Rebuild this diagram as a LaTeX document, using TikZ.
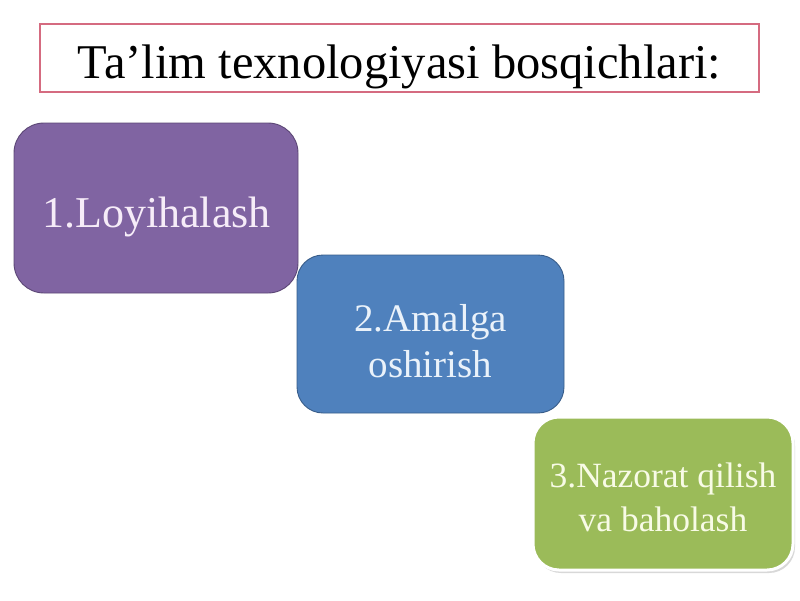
\documentclass[tikz,border=0pt]{standalone}
\usepackage{fontspec}
\setmainfont{Liberation Serif}
\usetikzlibrary{shadows}
\definecolor{titleborder}{HTML}{D56B80}
\definecolor{purplefill}{HTML}{8064A2}
\definecolor{purpleline}{HTML}{5C4776}
\definecolor{bluefill}{HTML}{4F81BD}
\definecolor{blueline}{HTML}{385D8A}
\definecolor{greenfill}{HTML}{9BBB59}
\definecolor{purpletext}{HTML}{F6ECF8}
\definecolor{bluetext}{HTML}{EAF2FA}
\definecolor{greentext}{HTML}{F8FBE6}
\tikzset{
  px/.style={x=1pt,y=-1pt},
  titlebox/.style={draw=titleborder,line width=1.6pt,fill=white},
  stepbox/.style={rounded corners=26pt,line width=0.9pt},
  steptext/.style={align=center,inner sep=0pt},
}
\begin{document}
\begin{tikzpicture}[px]
\useasboundingbox[fill=white] (0,0) rectangle (800,600);
% title
\draw[titlebox] (40,24) rectangle (759,92);
\node[steptext,anchor=base,font=\fontsize{48.5}{56}\selectfont] (title) at (399.5,78) {Ta’lim texnologiyasi bosqichlari:};
% box 1
\draw[stepbox,fill=purplefill,draw=purpleline,rounded corners=30pt] (14,123) rectangle (298,293);
\node[steptext,anchor=base,text=purpletext,font=\fontsize{44}{50}\selectfont] (s1) at (156.5,227) {1.Loyihalash};
% box 2
\draw[stepbox,fill=bluefill,draw=blueline] (297,255) rectangle (564,413);
\node[steptext,text=bluetext,font=\fontsize{39}{46}\selectfont] (s2) at (430.5,341) {2.Amalga\\oshirish};
% box 3
\draw[stepbox,fill=greenfill,draw=white,line width=3pt,drop shadow={shadow xshift=2pt,shadow yshift=-3pt,fill=black!25,opacity=0.6}] (533,417) rectangle (793,570);
\node[steptext,text=greentext,font=\fontsize{35.5}{44}\selectfont] (s3) at (663,497) {3.Nazorat qilish\\va baholash};
\end{tikzpicture}
\end{document}
